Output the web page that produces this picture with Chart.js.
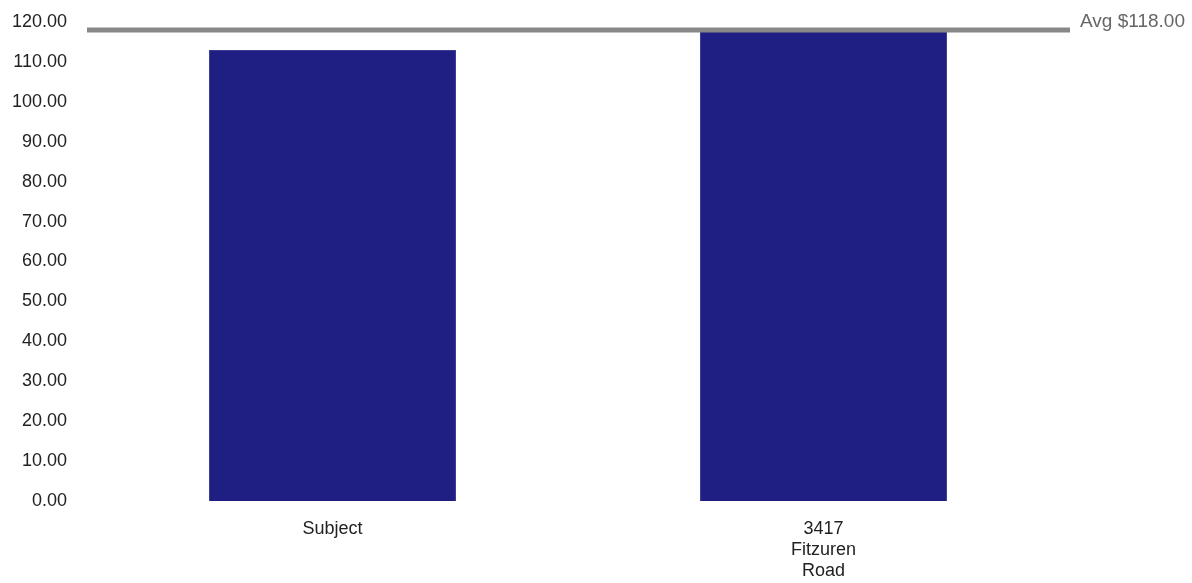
<!DOCTYPE html>
<html>
<head>
<meta charset="utf-8">
<script src="https://cdn.jsdelivr.net/npm/chart.js@4"></script>
<style>
  html, body { margin: 0; padding: 0; background: #fff; }
  #wrap { width: 1192px; height: 583px; position: relative; }
</style>
</head>
<body>
<div id="wrap"><canvas id="chart"></canvas></div>
<script>
// chart data
const categories = ['Subject', ['3417', 'Fitzuren', 'Road']];
const rates = [113, 118];
const avgRate = 118;
const yMin = 0;
const yMax = 120;
const yStep = 10;

const FONT = '"Liberation Sans", Arial, Helvetica, sans-serif';

// draws the average line and its label
const avgLinePlugin = {
  id: 'avgLine',
  afterDatasetsDraw(chart) {
    const ctx = chart.ctx;
    const area = chart.chartArea;
    const y = chart.scales.y.getPixelForValue(avgRate);
    ctx.save();
    ctx.strokeStyle = '#888888';
    ctx.lineWidth = 5;
    ctx.beginPath();
    ctx.moveTo(area.left, y);
    ctx.lineTo(area.right + 1, y);
    ctx.stroke();
    ctx.fillStyle = '#666666';
    ctx.font = '19px ' + FONT;
    ctx.textBaseline = 'middle';
    ctx.textAlign = 'left';
    ctx.fillText('Avg $' + avgRate.toFixed(2), area.right + 11, y - 8);
    ctx.restore();
  }
};

new Chart(document.getElementById('chart').getContext('2d'), {
  type: 'bar',
  data: {
    labels: categories,
    datasets: [{
      data: rates,
      backgroundColor: '#1f1e82',
      borderColor: '#3c3c92',
      borderWidth: 1,
      barPercentage: 0.503,
      categoryPercentage: 1
    }]
  },
  options: {
    responsive: true,
    maintainAspectRatio: false,
    animation: false,
    layout: { padding: { top: 22, left: 0, right: 123, bottom: 0 } },
    plugins: {
      legend: { display: false },
      tooltip: { enabled: false }
    },
    scales: {
      x: {
        grid: { display: false, drawTicks: false },
        border: { display: false },
        afterFit: s => { s.height = 82; },
        ticks: {
          color: '#222',
          font: { family: FONT, size: 18, lineHeight: 1.16 },
          padding: 18,
          maxRotation: 0
        }
      },
      y: {
        min: yMin,
        max: yMax,
        grid: { display: false, drawTicks: false },
        border: { display: false },
        afterFit: s => { s.width = 87; s.paddingTop = 0; s.paddingBottom = 0; },
        ticks: {
          stepSize: yStep,
          color: '#222',
          font: { family: FONT, size: 18 },
          padding: 20,
          callback: v => Number(v).toFixed(2)
        }
      }
    }
  },
  plugins: [avgLinePlugin]
});
</script>
</body>
</html>
